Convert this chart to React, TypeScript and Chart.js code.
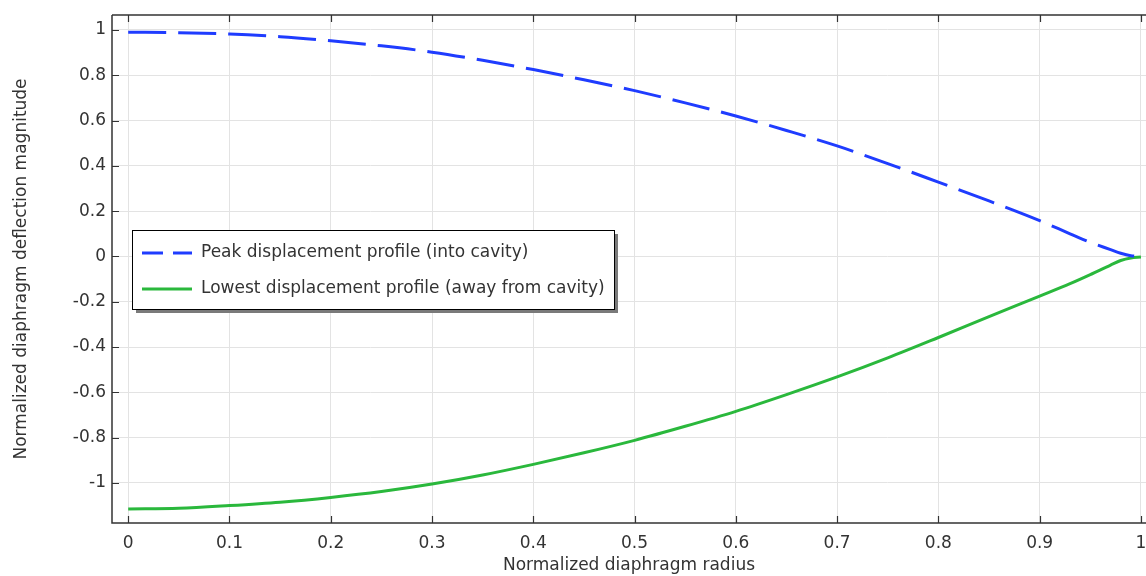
import { useEffect, useRef } from 'react';
import { Chart, registerables } from 'chart.js';

Chart.register(...registerables);

const radius = [0, 0.05, 0.1, 0.15, 0.2, 0.25, 0.3, 0.35, 0.4, 0.45, 0.5, 0.55, 0.6, 0.65, 0.7, 0.75, 0.8, 0.85, 0.9, 0.93, 0.95, 0.97, 0.98, 0.99, 1.0];
const peakProfile = [0.99, 0.988, 0.982, 0.97, 0.952, 0.93, 0.902, 0.866, 0.825, 0.78, 0.732, 0.678, 0.62, 0.556, 0.488, 0.41, 0.328, 0.245, 0.158, 0.1, 0.062, 0.03, 0.014, 0.003, 0.0];
const lowestProfile = [-1.115, -1.112, -1.1, -1.085, -1.064, -1.038, -1.005, -0.965, -0.918, -0.867, -0.812, -0.75, -0.684, -0.61, -0.532, -0.448, -0.358, -0.266, -0.175, -0.12, -0.08, -0.038, -0.018, -0.007, -0.003];
const xTickValues = [0, 0.1, 0.2, 0.3, 0.4, 0.5, 0.6, 0.7, 0.8, 0.9, 1];
const yTickValues = [-1, -0.8, -0.6, -0.4, -0.2, 0, 0.2, 0.4, 0.6, 0.8, 1];
const seriesLabels = ['Peak displacement profile (into cavity)', 'Lowest displacement profile (away from cavity)'];
const xTitle = 'Normalized diaphragm radius';
const yTitle = 'Normalized diaphragm deflection magnitude';

const BLUE = '#1f3cff';
const GREEN = '#2ab83c';
const FONT = "'DejaVu Sans', sans-serif";
const FS = 17;

const fmt = (v: number) => {
  const r = Math.round(v * 10) / 10;
  return r === 0 ? '0' : String(r);
};

const framePlugin = {
  id: 'frameTicks',
  afterDraw(chart: any) {
    const { ctx, chartArea } = chart;
    const { left, right, top, bottom } = chartArea;
    const xs = chart.scales.x;
    const ys = chart.scales.y;
    ctx.save();
    ctx.strokeStyle = '#333';
    ctx.lineWidth = 1.5;
    ctx.beginPath();
    ctx.moveTo(left, top);
    ctx.lineTo(right, top);
    ctx.moveTo(left, top);
    ctx.lineTo(left, bottom);
    ctx.lineTo(right, bottom);
    ctx.stroke();
    ctx.lineWidth = 1.2;
    ctx.beginPath();
    const L = 7;
    for (const v of xTickValues) {
      const px = Math.round(xs.getPixelForValue(v)) + 0.5;
      ctx.moveTo(px, bottom);
      ctx.lineTo(px, bottom - L);
      ctx.moveTo(px, top);
      ctx.lineTo(px, top + L);
    }
    for (const v of yTickValues) {
      const py = Math.round(ys.getPixelForValue(v)) + 0.5;
      ctx.moveTo(left, py);
      ctx.lineTo(left + L, py);
    }
    ctx.stroke();
    ctx.restore();
  },
};

const legendPlugin = {
  id: 'insideLegend',
  afterDraw(chart: any) {
    const { ctx } = chart;
    const x = 132, y = 230, w = 482, h = 79;
    ctx.save();
    ctx.fillStyle = '#7a7a7a';
    ctx.fillRect(x + 4, y + 4, w, h);
    ctx.fillStyle = '#ffffff';
    ctx.fillRect(x, y, w, h);
    ctx.strokeStyle = '#000';
    ctx.lineWidth = 1;
    ctx.strokeRect(x + 0.5, y + 0.5, w, h);
    const rows = [
      { label: seriesLabels[0], color: BLUE, dash: [21, 10], yy: 253 },
      { label: seriesLabels[1], color: GREEN, dash: [], yy: 289 },
    ];
    for (const r of rows) {
      ctx.strokeStyle = r.color;
      ctx.lineWidth = 3;
      ctx.setLineDash(r.dash);
      ctx.beginPath();
      ctx.moveTo(142, r.yy);
      ctx.lineTo(192, r.yy);
      ctx.stroke();
      ctx.setLineDash([]);
      ctx.fillStyle = '#333';
      ctx.font = `${FS}px ${FONT}`;
      ctx.textBaseline = 'middle';
      ctx.textAlign = 'left';
      ctx.fillText(r.label, 201, r.yy);
    }
    ctx.restore();
  },
};

export default function App() {
  const ref = useRef<HTMLCanvasElement | null>(null);
  useEffect(() => {
    document.body.style.margin = '0';
    if (!ref.current) return;
    const chart = new Chart(ref.current, {
      type: 'line',
      data: {
        datasets: [
          {
            label: seriesLabels[0],
            data: radius.map((r, i) => ({ x: r, y: peakProfile[i] })),
            borderColor: BLUE,
            borderWidth: 3,
            borderDash: [38, 12],
            pointRadius: 0,
            cubicInterpolationMode: 'monotone',
            fill: false,
          },
          {
            label: seriesLabels[1],
            data: radius.map((r, i) => ({ x: r, y: lowestProfile[i] })),
            borderColor: GREEN,
            borderWidth: 3,
            pointRadius: 0,
            cubicInterpolationMode: 'monotone',
            fill: false,
          },
        ],
      },
      options: {
        animation: false,
        responsive: false,
        maintainAspectRatio: false,
        layout: { padding: { top: 15, right: 0, left: 0, bottom: 0 } },
        plugins: { legend: { display: false }, tooltip: { enabled: false } },
        scales: {
          x: {
            type: 'linear',
            min: -0.016,
            max: 1.005,
            afterFit: (s: any) => { s.height = 53; s.paddingLeft = 0; s.paddingRight = 0; },
            afterBuildTicks: (s: any) => { s.ticks = xTickValues.map((v) => ({ value: v })); },
            grid: { color: '#e3e3e3', drawTicks: false, lineWidth: 1 },
            border: { display: false },
            ticks: { color: '#333', font: { family: FONT, size: FS }, padding: 10, callback: (v: any) => fmt(Number(v)), maxRotation: 0, autoSkip: false },
            title: { display: true, text: xTitle, color: '#333', font: { family: FONT, size: FS }, padding: { top: 0, bottom: 0 } },
          },
          y: {
            type: 'linear',
            min: -1.177,
            max: 1.066,
            afterFit: (s: any) => { s.width = 112; s.paddingTop = 0; s.paddingBottom = 0; },
            afterBuildTicks: (s: any) => { s.ticks = yTickValues.map((v) => ({ value: v })); },
            grid: { color: '#e3e3e3', drawTicks: false, lineWidth: 1 },
            border: { display: false },
            ticks: { color: '#333', font: { family: FONT, size: FS }, padding: 6, callback: (v: any) => fmt(Number(v)), autoSkip: false },
            title: { display: true, text: yTitle, color: '#333', font: { family: FONT, size: FS }, padding: { top: 11, bottom: 0 } },
          },
        },
      },
      plugins: [framePlugin, legendPlugin],
    } as any);
    return () => chart.destroy();
  }, []);
  return (
    <div style={{ width: 1146, height: 576 }}>
      <canvas ref={ref} width={1146} height={576} style={{ display: 'block' }} />
    </div>
  );
}
